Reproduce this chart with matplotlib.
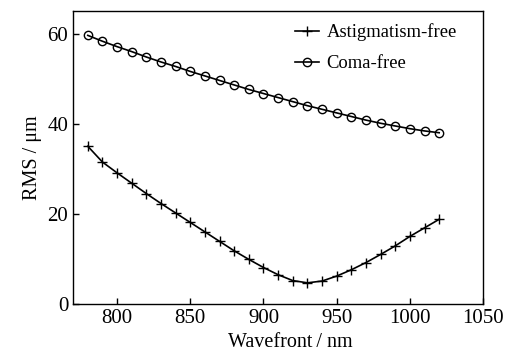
import matplotlib
matplotlib.use('Agg')
import matplotlib.pyplot as plt
import numpy as np

plt.rcParams['font.family'] = ['Liberation Serif', 'DejaVu Serif']

wavelength = [780, 790, 800, 810, 820, 830, 840, 850, 860, 870, 880, 890, 900,
              910, 920, 930, 940, 950, 960, 970, 980, 990, 1000, 1010, 1020]
astig_free = [35.0, 31.5, 29.1, 26.8, 24.5, 22.3, 20.2, 18.1, 16.0, 13.9, 11.8, 9.9, 8.1,
              6.5, 5.2, 4.7, 5.1, 6.2, 7.6, 9.2, 11.0, 12.9, 15.0, 16.9, 18.8]
coma_free = [59.6, 58.3, 57.1, 56.0, 54.8, 53.7, 52.7, 51.6, 50.6, 49.6, 48.6, 47.6, 46.7,
             45.8, 44.9, 44.0, 43.2, 42.4, 41.6, 40.8, 40.1, 39.5, 38.9, 38.4, 38.0]

fig = plt.figure(figsize=(5.08, 3.56), dpi=100)
ax = fig.add_axes([0.144, 0.146, 0.807, 0.823])

ax.plot(wavelength, astig_free, '-', marker='+', color='black', lw=1.2,
        markersize=7.5, mew=1.0, label='Astigmatism-free')
ax.plot(wavelength, coma_free, '-', marker='o', color='black', lw=1.2,
        markersize=6, mew=1.0, mfc='none', label='Coma-free')

ax.set_xlim(770, 1050)
ax.set_ylim(0, 65)
ax.set_xticks([800, 850, 900, 950, 1000, 1050])
ax.set_yticks([0, 20, 40, 60])
ax.tick_params(direction='in', length=4, width=1, labelsize=15)
for s in ax.spines.values():
    s.set_linewidth(1.0)

ax.set_xlabel('Wavefront\u2009/ nm', fontsize=14.5)
ax.xaxis.set_label_coords(0.529, -0.1)
ax.set_ylabel('RMS / \u03bcm', fontsize=14.5, labelpad=4)

ax.legend(loc='upper left', bbox_to_anchor=(0.541, 0.958), frameon=False,
          fontsize=13.4, handlelength=1.3, handletextpad=0.4, labelspacing=0.75,
          borderpad=0, borderaxespad=0)

plt.savefig('out.png', dpi=100)
